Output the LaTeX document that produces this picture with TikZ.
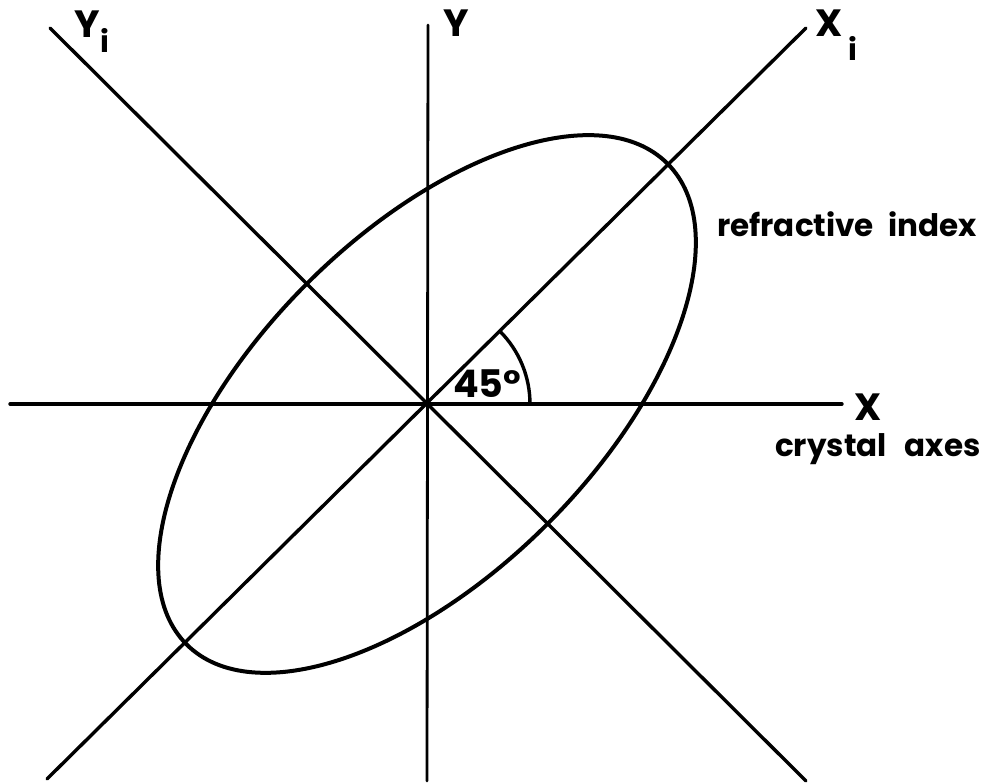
\documentclass[tikz,border=0pt]{standalone}
\usepackage{fontspec}
\setmainfont{Poppins}
\begin{document}
\begin{tikzpicture}[x=1pt,y=1pt,
  axis/.style={line width=3.4pt, line cap=round},
  thinaxis/.style={line width=2.8pt, line cap=round},
  curve/.style={line width=4pt},
  lbl/.style={inner sep=0pt, font=\bfseries\fontsize{38}{40}\selectfont},
  word/.style={inner sep=0pt, anchor=base west, font=\bfseries\fontsize{31}{34}\selectfont}]
\useasboundingbox (0,0) rectangle (989,784);
% centre and axis ends
\coordinate (O) at (427,380);
\coordinate (xl) at (10,380);
\coordinate (xr) at (842,380);
\coordinate (yt) at (428,759);
\coordinate (yb) at (427,3);
\coordinate (xib) at (47,5);
\coordinate (xit) at (806,756);
\coordinate (yit) at (50,756);
\coordinate (yib) at (806,3);
% axes
\draw[axis] (xl) -- (xr);
\draw[thinaxis] (yb) -- (yt);
\draw[axis] (xib) -- (xit);
\draw[axis] (yit) -- (yib);
% index ellipse
\draw[curve] (O) ellipse [x radius=340, y radius=170, rotate=45];
% angle arc
\draw[line width=3.4pt] (O) ++(0:103) arc[start angle=0, end angle=45, radius=103];
% labels
\node[lbl] (Ylab) at (456,761) {Y};
\node[lbl, anchor=base west] (Yilab) at (74,746) {Y\hspace{1pt}\raisebox{-15pt}{\fontsize{30}{32}\selectfont i}};
\node[lbl, anchor=base west] (Xilab) at (815,747) {X\hspace{6pt}\raisebox{-24pt}{\fontsize{30}{32}\selectfont i}};
\node[lbl] (Xlab) at (868,377) {X};
\node[inner sep=0pt, anchor=base west, font=\bfseries\fontsize{38}{40}\selectfont] (ang) at (453,386) {45°};
\node[word] (ri) at (717,547) {refractive\hspace{14pt}index};
\node[word] (ca) at (775,327) {crystal\hspace{18pt}axes};
\end{tikzpicture}
\end{document}
